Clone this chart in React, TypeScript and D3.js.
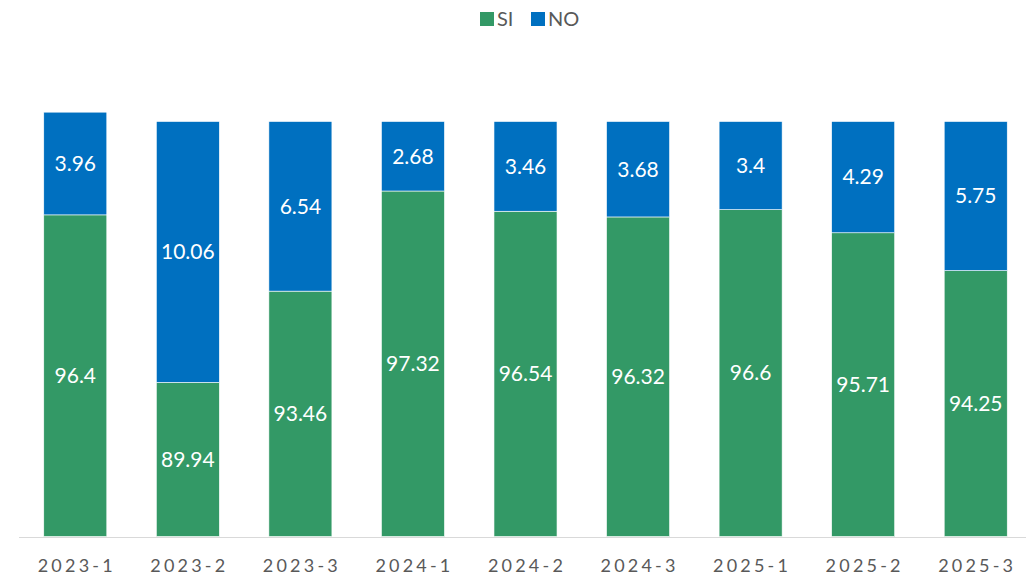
import React from "react";
import * as d3 from "d3";

const categories = ["2023-1", "2023-2", "2023-3", "2024-1", "2024-2", "2024-3", "2025-1", "2025-2", "2025-3"];
const siValues = [96.4, 89.94, 93.46, 97.32, 96.54, 96.32, 96.6, 95.71, 94.25];
const noValues = [3.96, 10.06, 6.54, 2.68, 3.46, 3.68, 3.4, 4.29, 5.75];
const seriesNames = ["SI", "NO"];
const colors = ["#339966", "#0070C0"];

const W = 1026;
const H = 576;

export default function App() {
  const x = d3.scaleBand<string>().domain(categories).range([19, 1032]).paddingInner(0.44).paddingOuter(0.22);
  const y = d3.scaleLinear().domain([84, 100]).range([536.5, 121.5]);
  const font = "Lato, 'Open Sans', sans-serif";

  const rows = categories.map((c, i) => ({ cat: c, SI: siValues[i], NO: noValues[i] }));
  const stack = d3.stack<any>().keys(seriesNames)(rows);

  return (
    <svg width={W} height={H} style={{ position: "absolute", left: 0, top: 0 }}>
      <rect width={W} height={H} fill="#fff" />
      {stack.map((layer, si) =>
        layer.map((d, i) => {
          const x0 = x(categories[i])!;
          const bw = x.bandwidth();
          const yTop = y(d[1]);
          const yBot = si === 0 ? y(84) : y(d[0]);
          return (
            <g key={`${si}-${i}`}>
              <rect x={x0} y={yTop} width={bw} height={yBot - yTop} fill={colors[si]} stroke="#fff" strokeWidth={0.6} />
              <text
                x={x0 + bw / 2}
                y={(yTop + yBot) / 2}
                dy="0.35em"
                textAnchor="middle"
                fill="#fff"
                fontFamily={font}
                fontSize={21}
              >
                {si === 0 ? siValues[i] : noValues[i]}
              </text>
            </g>
          );
        })
      )}
      <line x1={19} x2={W} y1={537.5} y2={537.5} stroke="#d9d9d9" strokeWidth={1.2} />
      {categories.map((c) => (
        <text
          key={c}
          x={x(c)! + x.bandwidth() / 2 + 1.5}
          y={572}
          textAnchor="middle"
          fill="#595959"
          fontFamily={font}
          fontSize={18}
          letterSpacing={3.2}
        >
          {c}
        </text>
      ))}
      {seriesNames.map((s, i) => {
        const lx = i === 0 ? 480 : 531;
        return (
          <g key={s}>
            <rect x={lx} y={12} width={14} height={14} fill={colors[i]} />
            <text x={lx + 17} y={26} fill="#595959" fontFamily={font} fontSize={20}>
              {s}
            </text>
          </g>
        );
      })}
    </svg>
  );
}
